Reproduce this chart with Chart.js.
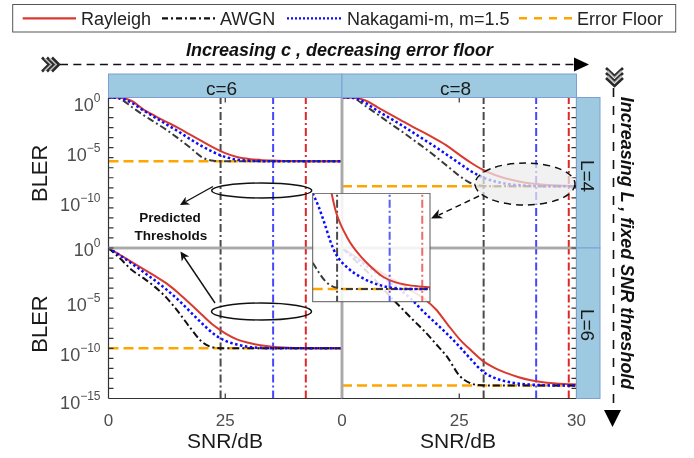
<!DOCTYPE html>
<html><head><meta charset="utf-8">
<script src="https://cdn.jsdelivr.net/npm/chart.js@4.4.1/dist/chart.umd.min.js"></script>
<style>
html,body{margin:0;padding:0;background:#fff;}
#wrap{position:relative;width:694px;height:458px;overflow:hidden;background:#fff;}
.layer{position:absolute;left:0;top:0;width:694px;height:458px;}
#inset{position:absolute;left:312px;top:193px;width:119px;height:110px;}
</style></head>
<body><div id="wrap">
<canvas id="pTL" class="layer" width="694" height="458"></canvas>
<canvas id="pTR" class="layer" width="694" height="458"></canvas>
<canvas id="pBL" class="layer" width="694" height="458"></canvas>
<canvas id="pBR" class="layer" width="694" height="458"></canvas>
<canvas id="inset" width="119" height="110"></canvas>
<svg id="ann" class="layer" width="694" height="458" xmlns="http://www.w3.org/2000/svg"></svg>
</div>
<script>
// ---------------- data ----------------
const seriesNames = ['Rayleigh', 'AWGN', 'Nakagami-m, m=1.5', 'Error Floor'];
const colLabels = ['c=6', 'c=8'];
const rowLabels = ['L=4', 'L=6'];
const xTickVals = [20, 25, 30];
const xTickText = ['0', '25', '30'];
const yTickVals = [1, 1e-5, 1e-10, 1e-15];
const yTickSup = ['0', '\u22125', '\u221210', '\u221215'];

const snrGrid = [20, 20.5, 21, 21.5, 22, 22.5, 23, 23.5, 24, 24.5, 25, 25.5, 26, 26.5, 27, 27.5, 28, 28.5, 29, 29.5, 30];

// c=6, L=4
const rayC6L4  = [1, 0.955, 0.447, 6.31e-2, 1.41e-2, 3.55e-3, 8.91e-4, 2.0e-4, 4.47e-5, 1e-5, 2.82e-6, 1.17e-6, 7.59e-7, 6.03e-7, 5.25e-7, 4.79e-7, 4.57e-7, 4.47e-7, 4.47e-7, 4.47e-7, 4.47e-7];
const awgnC6L4 = [1, 0.708, 0.112, 1.78e-2, 3.16e-3, 5.62e-4, 7.94e-5, 1e-5, 1.12e-6, 5.01e-7, 4.47e-7, 4.47e-7, 4.47e-7, 4.47e-7, 4.47e-7, 4.47e-7, 4.47e-7, 4.47e-7, 4.47e-7, 4.47e-7, 4.47e-7];
const nakaC6L4 = [1, 0.891, 0.282, 5.01e-2, 1e-2, 2.0e-3, 3.98e-4, 7.08e-5, 1.41e-5, 3.55e-6, 1.2e-6, 6.31e-7, 5.01e-7, 4.57e-7, 4.47e-7, 4.47e-7, 4.47e-7, 4.47e-7, 4.47e-7, 4.47e-7, 4.47e-7];
const floorC6L4 = 4.47e-7;

// c=8, L=4
const rayC8L4  = [1, 0.955, 0.501, 0.112, 2.51e-2, 5.62e-3, 1.26e-3, 3.16e-4, 7.08e-5, 1.41e-5, 2.0e-6, 3.16e-7, 6.31e-8, 2.0e-8, 8.32e-9, 4.47e-9, 2.82e-9, 2.14e-9, 1.78e-9, 1.58e-9, 1.48e-9];
const awgnC8L4 = [1, 0.794, 0.141, 2.24e-2, 3.16e-3, 5.01e-4, 7.08e-5, 1e-5, 1.26e-6, 1.41e-7, 1.58e-8, 2.82e-9, 1.58e-9, 1.41e-9, 1.41e-9, 1.41e-9, 1.41e-9, 1.41e-9, 1.41e-9, 1.41e-9, 1.41e-9];
const nakaC8L4 = [1, 0.955, 0.282, 5.01e-2, 1e-2, 2.0e-3, 3.55e-4, 6.31e-5, 1.12e-5, 1.78e-6, 2.82e-7, 4.47e-8, 1.12e-8, 4.47e-9, 2.51e-9, 1.86e-9, 1.58e-9, 1.48e-9, 1.41e-9, 1.41e-9, 1.41e-9];
const floorC8L4 = 1.41e-9;

// c=6, L=6
const rayC6L6  = [1, 0.2, 3.98e-2, 7.94e-3, 1.58e-3, 2.82e-4, 3.16e-5, 2.82e-6, 2.24e-7, 2.0e-8, 3.16e-9, 7.94e-10, 3.55e-10, 2.0e-10, 1.48e-10, 1.2e-10, 1.07e-10, 1e-10, 1e-10, 1e-10, 1e-10];
const awgnC6L6 = [1, 8.91e-2, 6.31e-3, 1e-3, 1.26e-4, 1e-5, 3.98e-7, 1.12e-8, 4.47e-10, 1.2e-10, 1e-10, 1e-10, 1e-10, 1e-10, 1e-10, 1e-10, 1e-10, 1e-10, 1e-10, 1e-10, 1e-10];
const nakaC6L6 = [1, 0.178, 2.82e-2, 3.98e-3, 5.62e-4, 6.76e-5, 6.31e-6, 4.47e-7, 3.16e-8, 2.82e-9, 5.62e-10, 2.4e-10, 1.41e-10, 1.12e-10, 1e-10, 1e-10, 1e-10, 1e-10, 1e-10, 1e-10, 1e-10];
const floorC6L6 = 1e-10;

// c=8, L=6
const rayC8L6  = [1, 0.178, 3.16e-2, 6.31e-3, 1.26e-3, 2.51e-4, 5.01e-5, 8.91e-6, 7.94e-7, 2.51e-8, 8.91e-10, 6.31e-11, 5.62e-12, 1.12e-12, 3.55e-13, 1.41e-13, 7.08e-14, 4.47e-14, 3.31e-14, 2.75e-14, 2.51e-14];
const awgnC8L6 = [1, 7.94e-2, 6.31e-3, 3.98e-4, 2.0e-5, 1.26e-6, 7.94e-8, 5.62e-9, 2.82e-10, 1.26e-11, 2.0e-13, 3.16e-14, 2.09e-14, 2.0e-14, 2.0e-14, 2.0e-14, 2.0e-14, 2.0e-14, 2.0e-14, 2.0e-14, 2.0e-14];
const nakaC8L6 = [1, 0.141, 2.0e-2, 2.82e-3, 4.47e-4, 6.31e-5, 6.31e-6, 3.98e-7, 3.16e-8, 2.51e-9, 1.58e-10, 7.94e-12, 5.01e-13, 1.12e-13, 5.01e-14, 3.16e-14, 2.51e-14, 2.19e-14, 2.0e-14, 2.0e-14, 2.0e-14];
const floorC8L6 = 2.0e-14;

// predicted SNR thresholds [AWGN, Nakagami, Rayleigh]
const thrC6 = [24.8, 27.05, 28.45];
const thrC8 = [26.04, 28.28, 29.67];

// zoomed inset (c=8, L=4 floor region)
const insetSnr  = [25, 25.25, 25.5, 25.75, 26, 26.5, 27, 27.5, 28, 28.5, 29, 29.5, 30];
const rayInset  = [3.98e-3, 3.16e-4, 2.82e-5, 3.47e-6, 5.01e-7, 6.76e-8, 1.91e-8, 7.59e-9, 3.63e-9, 2.4e-9, 1.95e-9, 1.74e-9, 1.62e-9];
const nakaInset = [2.19e-6, 7.94e-7, 2.24e-7, 5.62e-8, 2.0e-8, 7.08e-9, 3.72e-9, 2.4e-9, 1.78e-9, 1.51e-9, 1.41e-9, 1.41e-9, 1.41e-9];
const awgnInset = [1.07e-8, 5.25e-9, 2.82e-9, 1.91e-9, 1.58e-9, 1.41e-9, 1.41e-9, 1.41e-9, 1.41e-9, 1.41e-9, 1.41e-9, 1.41e-9, 1.41e-9];

// ---------------- styling ----------------
const FONT = '"Liberation Sans", Arial, Helvetica, sans-serif';
const COL = { ray: '#d93a30', awgnTop: '#3a3a3a', awgn: '#111111', naka: '#0a0aff', floor: '#ffa500',
  thrGray: '#4a4a4a', thrBlue: '#4646ff', thrRed: '#e02626', tick: '#4d4d4d' };

function pts(xs, ys) { return xs.map((x, i) => ({ x: x, y: ys[i] })); }
function curve(label, xs, ys, color, width, dash, order) {
  return { label, data: pts(xs, ys), borderColor: color, borderWidth: width, borderDash: dash,
    borderCapStyle: 'butt', pointRadius: 0, fill: false, cubicInterpolationMode: 'monotone', order };
}
function vline(x, yMin, yMax, color, order) {
  return { label: 'threshold', data: [{ x: x, y: yMin }, { x: x, y: yMax }], borderColor: color, borderWidth: 2,
    borderDash: [8, 3, 2, 3], borderCapStyle: 'butt', pointRadius: 0, fill: false, order };
}
function hline(v, x0, x1, order) {
  return { label: seriesNames[3], data: [{ x: x0, y: v }, { x: x1, y: v }], borderColor: COL.floor, borderWidth: 2.5,
    borderDash: [10, 5], borderCapStyle: 'butt', pointRadius: 0, fill: false, order };
}

const decor = {
  id: 'decor',
  afterDatasetsDraw(chart, args, o) {
    const ctx = chart.ctx, a = chart.chartArea, xs = chart.scales.x, ys = chart.scales.y;
    ctx.save();
    ctx.strokeStyle = '#a9a9a9'; ctx.lineWidth = 2.5;
    ctx.beginPath();
    if (o.col === 0) { ctx.moveTo(a.right, a.top); ctx.lineTo(a.right, a.bottom); }
    else { ctx.moveTo(a.left, a.top); ctx.lineTo(a.left, a.bottom); }
    if (o.row === 0) { ctx.moveTo(a.left, a.bottom); ctx.lineTo(a.right, a.bottom); }
    else { ctx.moveTo(a.left, a.top); ctx.lineTo(a.right, a.top); }
    ctx.stroke();
    ctx.strokeStyle = '#333'; ctx.lineWidth = 1.2;
    ctx.beginPath();
    const ex = o.col === 0 ? a.left : a.right;
    const ey = o.row === 0 ? a.top : a.bottom;
    ctx.moveTo(ex, a.top); ctx.lineTo(ex, a.bottom);
    ctx.moveTo(a.left, ey); ctx.lineTo(a.right, ey);
    const dir = o.col === 0 ? 1 : -1;
    for (let k = 0; k <= 15; k++) {
      const py = ys.getPixelForValue(Math.pow(10, -k));
      ctx.moveTo(ex, py); ctx.lineTo(ex + dir * 5, py);
    }
    const px = xs.getPixelForValue(xTickVals[1]);
    const d2 = o.row === 0 ? 1 : -1;
    ctx.moveTo(px, ey); ctx.lineTo(px, ey + d2 * 5);
    ctx.stroke();
    ctx.fillStyle = COL.tick; ctx.textAlign = 'left'; ctx.textBaseline = 'alphabetic';
    if (o.col === 0) {
      const n = o.row === 0 ? 3 : 4;
      for (let i = 0; i < n; i++) {
        const py = ys.getPixelForValue(yTickVals[i]);
        const dy = o.dy[i];
        ctx.font = '12px ' + FONT; const sw = ctx.measureText(yTickSup[i]).width;
        ctx.font = '18px ' + FONT; const bw = ctx.measureText('10').width;
        const R = a.left - 8;
        ctx.fillText('10', R - sw - bw, py + dy);
        ctx.font = '12px ' + FONT; ctx.fillText(yTickSup[i], R - sw, py + dy - 8.6);
      }
    }
    if (o.row === 1) {
      ctx.font = '17px ' + FONT; ctx.textAlign = 'center';
      const n = o.col === 0 ? 2 : 3;
      for (let i = 0; i < n; i++) ctx.fillText(xTickText[i], xs.getPixelForValue(xTickVals[i]), a.bottom + 27);
    }
    ctx.restore();
  }
};

const panels = [
  { id: 'pTL', row: 0, col: 0, ray: rayC6L4, awgn: awgnC6L4, naka: nakaC6L4, floor: floorC6L4, thr: thrC6, dy: [13, 13, 13] },
  { id: 'pTR', row: 0, col: 1, ray: rayC8L4, awgn: awgnC8L4, naka: nakaC8L4, floor: floorC8L4, thr: thrC8 },
  { id: 'pBL', row: 1, col: 0, ray: rayC6L6, awgn: awgnC6L6, naka: nakaC6L6, floor: floorC6L6, thr: thrC6, dy: [7.5, 12.7, 12.7, 10] },
  { id: 'pBR', row: 1, col: 1, ray: rayC8L6, awgn: awgnC8L6, naka: nakaC8L6, floor: floorC8L6, thr: thrC8 }
];
const colEdges = [108.5, 342, 576.5];
const rowEdges = [97.5, 248, 398.5];

panels.forEach(p => {
  const datasets = [
    curve(seriesNames[2], snrGrid, p.naka, COL.naka, 2.5, [2.5, 2.5], 1),
    curve(seriesNames[1], snrGrid, p.awgn, p.row === 0 ? COL.awgnTop : COL.awgn, 2, [7, 3, 2, 3], 2),
    curve(seriesNames[0], snrGrid, p.ray, COL.ray, 2, [], 3),
    vline(p.thr[0], 1e-15, 1, COL.thrGray, 4),
    vline(p.thr[1], 1e-15, 1, COL.thrBlue, 4),
    vline(p.thr[2], 1e-15, 1, COL.thrRed, 4),
    hline(p.floor, 20, 30, 5)
  ];
  new Chart(document.getElementById(p.id), {
    type: 'line',
    data: { datasets },
    options: {
      responsive: false, animation: false, devicePixelRatio: 1, events: [],
      layout: { padding: { left: colEdges[p.col], right: 694 - colEdges[p.col + 1], top: rowEdges[p.row], bottom: 458 - rowEdges[p.row + 1] } },
      scales: {
        x: { type: 'linear', min: 20, max: 30, display: false },
        y: { type: 'logarithmic', min: 1e-15, max: 1, display: false }
      },
      plugins: { legend: { display: false }, tooltip: { enabled: false },
        decor: { row: p.row, col: p.col, dy: p.dy || [] } }
    },
    plugins: [decor]
  });
});

// inset
const insetBox = {
  id: 'insetBox',
  beforeDatasetsDraw(chart) {
    const c = chart.ctx, a = chart.chartArea;
    c.save(); c.fillStyle = 'rgba(255,255,255,0.86)'; c.fillRect(a.left, a.top, a.width, a.height); c.restore();
  },
  afterDraw(chart) {
    const c = chart.ctx, a = chart.chartArea;
    c.save(); c.strokeStyle = '#5a5a5a'; c.lineWidth = 1; c.strokeRect(a.left, a.top, a.width, a.height); c.restore();
  }
};
new Chart(document.getElementById('inset'), {
  type: 'line',
  data: { datasets: [
    curve(seriesNames[2], insetSnr, nakaInset, COL.naka, 2.5, [2.5, 2.5], 1),
    curve(seriesNames[1], insetSnr, awgnInset, COL.awgnTop, 2, [7, 3, 2, 3], 2),
    curve(seriesNames[0], insetSnr, rayInset, COL.ray, 2, [], 3),
    vline(thrC8[0], 1e-12, 1e-3, COL.thrGray, 4),
    vline(thrC8[1], 1e-12, 1e-3, '#5a5aff', 4),
    vline(thrC8[2], 1e-12, 1e-3, '#f06a6a', 4),
    hline(floorC8L4, 25, 30, 5)
  ] },
  options: {
    responsive: false, animation: false, devicePixelRatio: 1, events: [],
    layout: { padding: { left: 0.7, right: 1, top: 0.3, bottom: 1.3 } },
    scales: {
      x: { type: 'linear', min: 25, max: 30, display: false },
      y: { type: 'logarithmic', min: 5.37e-10, max: 2.19e-6, display: false }
    },
    plugins: { legend: { display: false }, tooltip: { enabled: false } }
  },
  plugins: [insetBox]
});

// ---------------- annotations (SVG) ----------------
const S = [];
const ff = `font-family='${FONT.replace(/"/g, '')}'`;
function ln(x1, y1, x2, y2, c, w, dash) {
  S.push(`<line x1="${x1}" y1="${y1}" x2="${x2}" y2="${y2}" stroke="${c}" stroke-width="${w}"${dash ? ` stroke-dasharray="${dash}"` : ''}/>`);
}
function txt(x, y, s, size, opts = '') {
  S.push(`<text x="${x}" y="${y}" font-size="${size}" ${ff} ${opts}>${s}</text>`);
}
function head(x1, y1, x2, y2, len, w, c) {
  const dx = x2 - x1, dy = y2 - y1, L = Math.hypot(dx, dy), ux = dx / L, uy = dy / L, nx = -uy, ny = ux;
  const bx = x2 - ux * len, by = y2 - uy * len, mx = x2 - ux * len * 0.72, my = y2 - uy * len * 0.72;
  S.push(`<polygon points="${x2},${y2} ${bx + nx * w},${by + ny * w} ${mx},${my} ${bx - nx * w},${by - ny * w}" fill="${c}"/>`);
}

// legend
S.push(`<rect x="12.7" y="4.5" width="663" height="27.5" fill="#fff" stroke="#555" stroke-width="1"/>`);
ln(22.7, 18.3, 76, 18.3, COL.ray, 2.2);
txt(81, 24.6, seriesNames[0], 18, 'fill="#222"');
ln(162, 18.3, 217, 18.3, '#111', 2.2, '6 3 2 3');
txt(220, 24.6, seriesNames[1], 18, 'fill="#222"');
ln(287, 18.3, 343, 18.3, COL.naka, 2.2, '2 2');
txt(347, 24.6, seriesNames[2], 18, 'fill="#222"');
ln(519, 18.3, 574, 18.3, COL.floor, 2.5, '8 7');
txt(577, 24.6, seriesNames[3], 18, 'fill="#222"');

// top direction arrow
txt(339.5, 56, 'Increasing c , decreasing error floor', 18, 'font-weight="bold" font-style="italic" text-anchor="middle" fill="#111"');
[42, 47, 52].forEach(x => S.push(`<polyline points="${x},57.5 ${x + 7},64.5 ${x},71.5" fill="none" stroke="#2a2a2a" stroke-width="2.6"/>`));
[44.5, 49.5].forEach(x => S.push(`<polyline points="${x},58.5 ${x + 6.5},64.5 ${x},70.5" fill="none" stroke="#aaa" stroke-width="1.2"/>`));
ln(60, 64.5, 575, 64.5, '#111', 1.6, '8 5.3');
S.push(`<polygon points="574,57.5 589,64.5 574,71.5" fill="#000"/>`);

// facet strips
S.push(`<rect x="108.5" y="74" width="233.5" height="23.5" fill="#9ecae1" stroke="#7f9ed3" stroke-width="1"/>`);
S.push(`<rect x="342" y="74" width="234.5" height="23.5" fill="#9ecae1" stroke="#7f9ed3" stroke-width="1"/>`);
S.push(`<rect x="576.5" y="97.5" width="23.5" height="150.5" fill="#9ecae1" stroke="#7f9ed3" stroke-width="1"/>`);
S.push(`<rect x="576.5" y="248" width="23.5" height="150.5" fill="#9ecae1" stroke="#7f9ed3" stroke-width="1"/>`);
txt(221.5, 94.5, colLabels[0], 19, 'text-anchor="middle" fill="#1a1a1a"');
txt(455.5, 94.5, colLabels[1], 19, 'text-anchor="middle" fill="#1a1a1a"');
S.push(`<text transform="translate(580.5,176) rotate(90)" font-size="19" ${ff} text-anchor="middle" fill="#1a1a1a">${rowLabels[0]}</text>`);
S.push(`<text transform="translate(580.5,325) rotate(90)" font-size="19" ${ff} text-anchor="middle" fill="#1a1a1a">${rowLabels[1]}</text>`);

// right direction arrow
[68, 73, 78].forEach(y => S.push(`<polyline points="606,${y} 614.5,${y + 8} 623,${y}" fill="none" stroke="#2a2a2a" stroke-width="2.6"/>`));
[70.5, 75.5].forEach(y => S.push(`<polyline points="607.5,${y} 614.5,${y + 7} 621.5,${y}" fill="none" stroke="#aaa" stroke-width="1.2"/>`));
ln(613.5, 88, 613.5, 411, '#111', 1.6, '9 9');
S.push(`<polygon points="604,410 621,410 612.5,427" fill="#000"/>`);
S.push(`<text transform="translate(620.5,243) rotate(90)" font-size="18" ${ff} font-weight="bold" font-style="italic" text-anchor="middle" fill="#111">Increasing L , fixed SNR threshold</text>`);

// axis titles
S.push(`<text transform="translate(46.5,173.3) rotate(-90)" font-size="22" ${ff} text-anchor="middle" fill="#1a1a1a">BLER</text>`);
S.push(`<text transform="translate(46.5,324) rotate(-90)" font-size="22" ${ff} text-anchor="middle" fill="#1a1a1a">BLER</text>`);
txt(225, 448, 'SNR/dB', 21, 'text-anchor="middle" fill="#1a1a1a"');
txt(458, 448, 'SNR/dB', 21, 'text-anchor="middle" fill="#1a1a1a"');

// predicted thresholds annotation
S.push(`<ellipse cx="261.7" cy="190.5" rx="50" ry="7.5" fill="none" stroke="#111" stroke-width="1.4"/>`);
S.push(`<ellipse cx="261.5" cy="311.5" rx="50" ry="8.5" fill="none" stroke="#111" stroke-width="1.4"/>`);
ln(213, 186.5, 186, 201.5, '#111', 1.4);
head(213, 186.5, 180, 205, 9, 4.5, '#111');
ln(215, 303, 184, 257, '#111', 1.4);
head(215, 303, 180.5, 251.5, 9, 4.5, '#111');
txt(170, 221.7, 'Predicted', 13.5, 'font-weight="bold" text-anchor="middle" fill="#111"');
txt(171, 240, 'Thresholds', 13.5, 'font-weight="bold" text-anchor="middle" fill="#111"');

// zoom ellipse + arrow to inset
S.push(`<ellipse cx="525" cy="184" rx="50" ry="21" fill="rgba(236,236,236,0.72)" stroke="#111" stroke-width="1.5" stroke-dasharray="7 5"/>`);
ln(479, 196, 439, 215, '#111', 1.5, '6 4');
head(479, 196, 431, 218.5, 11, 5, '#111');

document.getElementById('ann').innerHTML = S.join('');
</script>
</body></html>
